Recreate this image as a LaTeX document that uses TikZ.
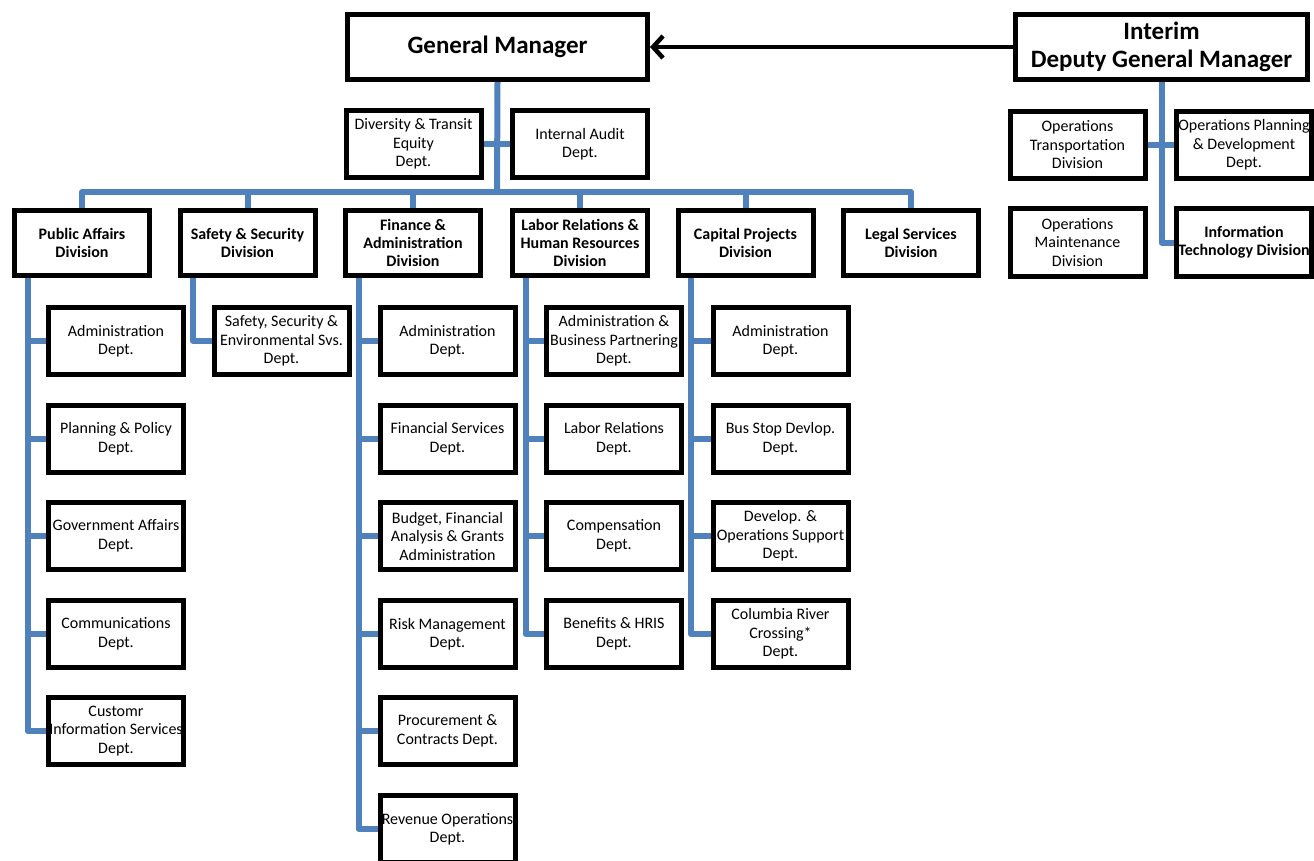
\documentclass[tikz,border=0pt]{standalone}
\usepackage{fontspec}
\setmainfont{Carlito}
\usetikzlibrary{positioning}
\usetikzlibrary{arrows.meta}
\usetikzlibrary{backgrounds}
\definecolor{orgblue}{RGB}{79,129,189}
\tikzset{
	topbox/.style={rectangle, draw=black, fill=white, line width=5pt, align=center, minimum width=292pt, minimum height=66pt, inner sep=1pt, font=\fontsize{25}{28}\selectfont\bfseries},
	divbox/.style={rectangle, draw=black, fill=white, line width=5pt, align=center, minimum width=135pt, minimum height=65pt, inner sep=0pt, font=\fontsize{16}{18}\selectfont\bfseries},
	deptbox/.style={rectangle, draw=black, fill=white, line width=5pt, align=center, minimum width=135pt, minimum height=67pt, inner sep=0pt, font=\fontsize{16}{18.5}\selectfont},
	link/.style={draw=orgblue, line width=6pt, line join=round},
	reportline/.style={draw=black, line width=4.5pt, -{Straight Barb[length=10pt,width=22pt,line width=4.5pt]}}
}
\begin{document}
\begin{tikzpicture}[x=1pt, y=-1pt]
	\useasboundingbox (0,0) rectangle (1314,861);

	% top of the chart
	\node[topbox, minimum width=300pt, minimum height=65pt](gm) at (497.5,47){General Manager};
	\node[topbox, minimum height=65pt](idgm) at (1161.5,47){Interim\\Deputy General Manager};

	\node[deptbox](dte) at (413.5,144){Diversity \& Transit\\Equity\\Dept.};
	\node[deptbox](iad) at (580,144){Internal Audit\\Dept.};

	% divisions
	\node[divbox](pad) at (82,243){Public Affairs\\Division};
	\node[divbox](ssd) at (247.5,243){Safety \& Security\\Division};
	\node[divbox](fad) at (413,243){Finance \&\\Administration\\Division};
	\node[divbox](lhd) at (580,243){Labor Relations \&\\Human Resources\\Division};
	\node[divbox](cpd) at (745.5,243){Capital Projects\\Division};
	\node[divbox](lsd) at (911,243){Legal Services\\Division};

	% deputy side
	\node[deptbox](otd) at (1077.5,145){Operations\\Transportation\\Division};
	\node[deptbox](opd) at (1244,145){Operations Planning\\\& Development\\Dept.};
	\node[deptbox](omd) at (1077.5,242.5){Operations\\Maintenance\\Division};
	\node[deptbox, font=\fontsize{16}{18}\selectfont\bfseries](itd) at (1244,242.5){Information\\Technology Division};

	% public affairs
	\node[deptbox](pa1) at (116,341){Administration\\Dept.};
	\node[deptbox](pa2) at (116,438.5){Planning \& Policy\\Dept.};
	\node[deptbox](pa3) at (116,536){Government Affairs\\Dept.};
	\node[deptbox](pa4) at (116,634){Communications\\Dept.};
	\node[deptbox](pa5) at (116,731){Customr\\Information Services\\Dept.};

	% safety & security
	\node[deptbox](ss1) at (281.5,341){Safety, Security \&\\Environmental Svs.\\Dept.};

	% finance & administration
	\node[deptbox](fa1) at (447.5,341){Administration\\Dept.};
	\node[deptbox](fa2) at (447.5,438.5){Financial Services\\Dept.};
	\node[deptbox](fa3) at (447.5,536){Budget, Financial\\Analysis \& Grants\\Administration};
	\node[deptbox](fa4) at (447.5,634){Risk Management\\Dept.};
	\node[deptbox](fa5) at (447.5,731){Procurement \&\\Contracts Dept.};
	\node[deptbox](fa6) at (447.5,829){Revenue Operations\\Dept.};

	% labor relations & human resources
	\node[deptbox](lh1) at (614,341){Administration \&\\Business Partnering\\Dept.};
	\node[deptbox](lh2) at (614,438.5){Labor Relations\\Dept.};
	\node[deptbox](lh3) at (614,536){Compensation\\Dept.};
	\node[deptbox](lh4) at (614,634){Benefits \& HRIS\\Dept.};

	% capital projects
	\node[deptbox](cp1) at (780.5,341){Administration\\Dept.};
	\node[deptbox](cp2) at (780.5,438.5){Bus Stop Devlop.\\Dept.};
	\node[deptbox](cp3) at (780.5,536){Develop. \&\\Operations Support\\Dept.};
	\node[deptbox](cp4) at (780.5,634){Columbia River\\Crossing*\\Dept.};

	\coordinate (bus) at (497,192);

	\begin{pgfonlayer}{background}
		\draw[link] (gm.south) -- (bus);
		\draw[link] (dte.east) -- (iad.west);
		\foreach \d in {pad,ssd,fad,lhd,cpd,lsd}
			\draw[link] (bus) -| (\d.north);
		\foreach \d/\n in {pa/5,ss/1,fa/6,lh/4,cp/4}
			\foreach \i in {1,...,\n}
				\draw[link] ([xshift=15.5pt]\d d.south west) |- (\d\i.west);
		\draw[link] (idgm.south) |- (itd.west);
		\draw[link] (otd.east) -- (opd.west);
	\end{pgfonlayer}

	\draw[reportline] (idgm.west) -- (gm.east);
\end{tikzpicture}
\end{document}
